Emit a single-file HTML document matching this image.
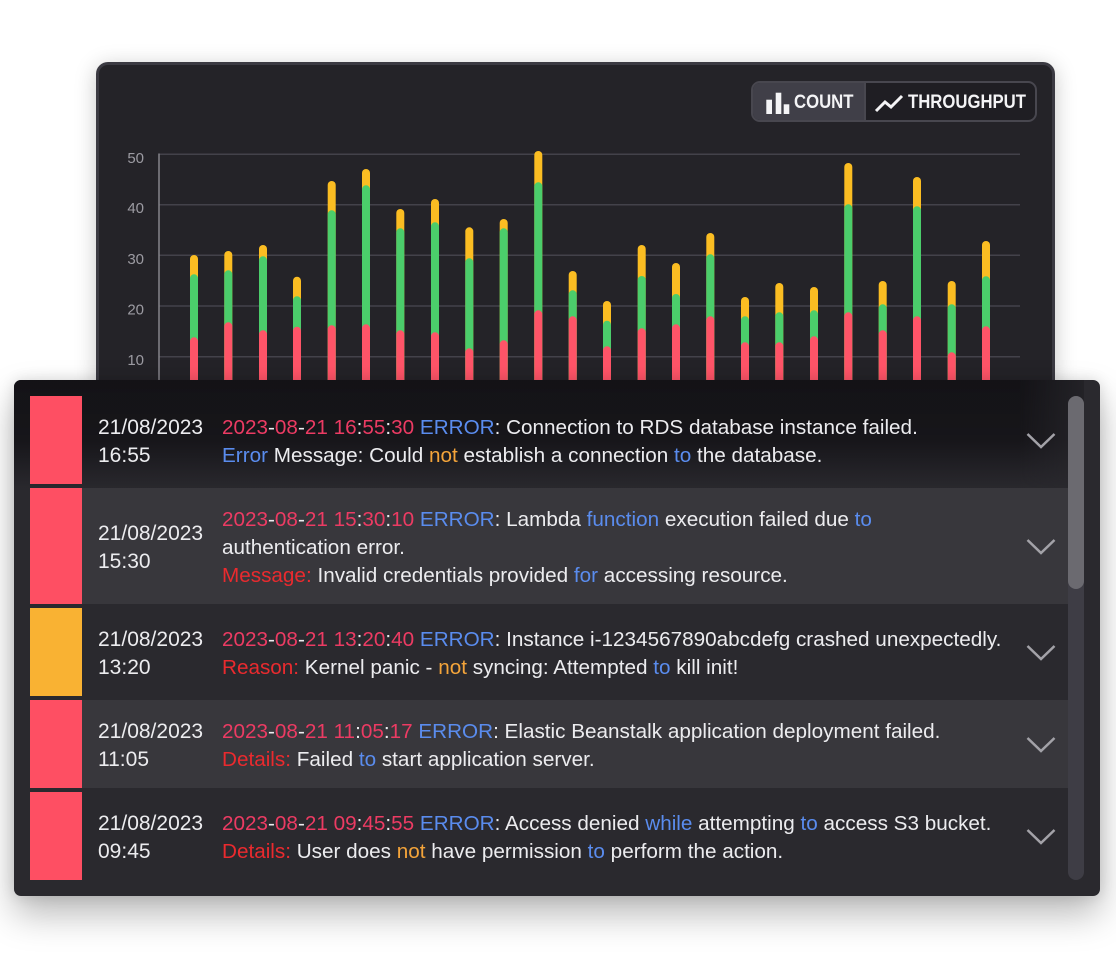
<!DOCTYPE html>
<html>
<head>
<meta charset="utf-8">
<style>
  html,body{margin:0;padding:0;}
  body{width:1116px;height:960px;background:#ffffff;position:relative;overflow:hidden;font-family:"Liberation Sans",Arial,sans-serif;}
  .card{position:absolute;left:96px;top:62px;width:953px;height:400px;background:#242328;border:3px solid #3b3a42;border-radius:12px;box-shadow:0 4px 22px rgba(0,0,0,0.22);}
  svg.chart{position:absolute;left:0;top:0;}
  .btns{position:absolute;left:751px;top:81px;width:282px;height:37px;border:2px solid #48474f;border-radius:9px;background:#1f1e23;overflow:hidden;color:#f4f4f6;font-weight:bold;font-size:19px;line-height:19px;}
  .seg1{position:absolute;left:0;top:0;width:111px;height:37px;background:#403f48;border-right:2px solid #48474f;}
  .btns span{position:absolute;top:10px;display:inline-block;transform:scaleX(0.88);transform-origin:0 0;white-space:nowrap;}
  .panel{position:absolute;left:14px;top:380px;width:1086px;height:516px;background:#2a292e;border-radius:7px;box-shadow:0 18px 36px rgba(0,0,0,0.28),0 0 14px rgba(0,0,0,0.12);overflow:hidden;}
  .track{position:absolute;left:1054px;top:16px;width:16px;height:484px;background:#3e3d45;border-radius:8px;}
  .overlay{position:absolute;left:0;top:0;width:1070px;height:110px;
    background:linear-gradient(to bottom,rgba(19,18,22,0.97) 0%,rgba(21,20,24,0.9) 55%,rgba(32,31,36,0.6) 85%,rgba(42,41,46,0) 100%);
    -webkit-mask-image:linear-gradient(to right,#000 0%,#000 94%,rgba(0,0,0,0.3) 100%);}
  .thumb{position:absolute;left:1054px;top:16px;width:16px;height:193px;background:#6b6a70;border-radius:8px;}
  .row{position:absolute;left:16px;width:1038px;}
  .strip{position:absolute;left:0;top:0;width:52px;height:100%;}
  .red{background:#fe4f63;}
  .yel{background:#f9b233;}
  .date{position:absolute;left:68px;top:2px;height:100%;display:flex;flex-direction:column;justify-content:center;font-size:21px;line-height:28px;color:#ececef;}
  .msg{position:absolute;left:192px;top:2px;height:100%;display:flex;flex-direction:column;justify-content:center;font-size:20.7px;line-height:28px;color:#ececef;white-space:nowrap;}
  .p{color:#ec3b63;}
  .b{color:#5a8cee;}
  .r{color:#ea2a2e;}
  .o{color:#f4a43a;}
  .chev{position:absolute;left:996px;top:50%;margin-top:-8px;}
</style>
</head>
<body>
<div class="card"></div>
<svg class="chart" width="1116" height="960" viewBox="0 0 1116 960">
  <g stroke="#43424a" stroke-width="1.5">
    <line x1="159" y1="154.3" x2="1020" y2="154.3"/>
    <line x1="159" y1="204.7" x2="1020" y2="204.7"/>
    <line x1="159" y1="255.3" x2="1020" y2="255.3"/>
    <line x1="159" y1="306" x2="1020" y2="306"/>
    <line x1="159" y1="356.7" x2="1020" y2="356.7"/>
  </g>
  <line x1="159" y1="153.5" x2="159" y2="420" stroke="#85848b" stroke-width="1.5"/>
  <g fill="#9c9ba2" font-family="Liberation Sans, Arial, sans-serif" font-size="15" text-anchor="end">
    <text x="144" y="162.8">50</text>
    <text x="144" y="213.2">40</text>
    <text x="144" y="263.8">30</text>
    <text x="144" y="314.5">20</text>
    <text x="144" y="365.2">10</text>
  </g>
  <g id="bars"></g>
</svg>
<div class="btns">
  <div class="seg1"></div>
  <svg style="position:absolute;left:12px;top:8px" width="26" height="24" viewBox="0 0 26 24">
    <rect x="1.3" y="8.7" width="5.7" height="14.3" fill="#f4f4f6"/>
    <rect x="10.7" y="1.7" width="5.6" height="21.3" fill="#f4f4f6"/>
    <rect x="18.7" y="13.3" width="5.6" height="9.7" fill="#f4f4f6"/>
  </svg>
  <span style="left:41px;">COUNT</span>
  <svg style="position:absolute;left:121px;top:10px" width="30" height="20" viewBox="0 0 30 20">
    <polyline points="2,18 11,9 17,14 28,3" fill="none" stroke="#f4f4f6" stroke-width="3" stroke-linejoin="miter"/>
  </svg>
  <span style="left:155px;">THROUGHPUT</span>
</div>

<div class="panel">
  <div class="track"></div>
  <div class="overlay"></div>

  <div class="row" style="top:16px;height:88px;">
    <div class="strip red"></div>
    <div class="date"><div>21/08/2023</div><div>16:55</div></div>
    <div class="msg">
      <div><span class="p">2023</span>-<span class="p">08</span>-<span class="p">21 16</span>:<span class="p">55</span>:<span class="p">30</span> <span class="b">ERROR</span>: Connection to RDS database instance failed.</div>
      <div><span class="b">Error</span> Message: Could <span class="o">not</span> establish a connection <span class="b">to</span> the database.</div>
    </div>
    <svg class="chev" width="30" height="18" viewBox="0 0 30 18"><polyline points="1.5,2 15,15 28.5,2" fill="none" stroke="#a3a2a8" stroke-width="2.5"/></svg>
  </div>

  <div class="row" style="top:108px;height:116px;background:#38373c;">
    <div class="strip red"></div>
    <div class="date"><div>21/08/2023</div><div>15:30</div></div>
    <div class="msg">
      <div><span class="p">2023</span>-<span class="p">08</span>-<span class="p">21 15</span>:<span class="p">30</span>:<span class="p">10</span> <span class="b">ERROR</span>: Lambda <span class="b">function</span> execution failed due <span class="b">to</span></div>
      <div>authentication error.</div>
      <div><span class="r">Message:</span> Invalid credentials provided <span class="b">for</span> accessing resource.</div>
    </div>
    <svg class="chev" width="30" height="18" viewBox="0 0 30 18"><polyline points="1.5,2 15,15 28.5,2" fill="none" stroke="#a3a2a8" stroke-width="2.5"/></svg>
  </div>

  <div class="row" style="top:228px;height:88px;">
    <div class="strip yel"></div>
    <div class="date"><div>21/08/2023</div><div>13:20</div></div>
    <div class="msg">
      <div><span class="p">2023</span>-<span class="p">08</span>-<span class="p">21 13</span>:<span class="p">20</span>:<span class="p">40</span> <span class="b">ERROR</span>: Instance i-1234567890abcdefg crashed unexpectedly.</div>
      <div><span class="r">Reason:</span> Kernel panic - <span class="o">not</span> syncing: Attempted <span class="b">to</span> kill init!</div>
    </div>
    <svg class="chev" width="30" height="18" viewBox="0 0 30 18"><polyline points="1.5,2 15,15 28.5,2" fill="none" stroke="#a3a2a8" stroke-width="2.5"/></svg>
  </div>

  <div class="row" style="top:320px;height:88px;background:#38373c;">
    <div class="strip red"></div>
    <div class="date"><div>21/08/2023</div><div>11:05</div></div>
    <div class="msg">
      <div><span class="p">2023</span>-<span class="p">08</span>-<span class="p">21 11</span>:<span class="p">05</span>:<span class="p">17</span> <span class="b">ERROR</span>: Elastic Beanstalk application deployment failed.</div>
      <div><span class="r">Details:</span> Failed <span class="b">to</span> start application server.</div>
    </div>
    <svg class="chev" width="30" height="18" viewBox="0 0 30 18"><polyline points="1.5,2 15,15 28.5,2" fill="none" stroke="#a3a2a8" stroke-width="2.5"/></svg>
  </div>

  <div class="row" style="top:412px;height:88px;">
    <div class="strip red"></div>
    <div class="date"><div>21/08/2023</div><div>09:45</div></div>
    <div class="msg">
      <div><span class="p">2023</span>-<span class="p">08</span>-<span class="p">21 09</span>:<span class="p">45</span>:<span class="p">55</span> <span class="b">ERROR</span>: Access denied <span class="b">while</span> attempting <span class="b">to</span> access S3 bucket.</div>
      <div><span class="r">Details:</span> User does <span class="o">not</span> have permission <span class="b">to</span> perform the action.</div>
    </div>
    <svg class="chev" width="30" height="18" viewBox="0 0 30 18"><polyline points="1.5,2 15,15 28.5,2" fill="none" stroke="#a3a2a8" stroke-width="2.5"/></svg>
  </div>

  <div class="thumb"></div>
</div>

<script>
(function(){
  var xs=[194,228.3,263,297,331.7,366,400.3,435,469.3,503.7,538.3,572.7,607,641.7,676,710.3,745,779.3,814,848.3,882.7,917,951.7,986];
  var d=[[255,274.3,337.3],[251,270.3,322.3],[245,256.3,330.3],[276.7,296.3,326.7],[181,210.3,325.3],[169,185.3,324.3],[209,228.3,330.3],[199,222.3,332.3],[227.3,258.3,348.3],[219,228.3,340.3],[151,182.3,310.3],[271,290.3,316.3],[301,320.7,346.3],[245,276,328.3],[263,294,324.3],[233,254.3,316.3],[297,316.3,342.3],[283,312.3,342.3],[287,310.3,336.3],[163,204.3,312.3],[281,304.3,330.3],[177,206.3,316.3],[281,304.3,352.3],[241,276.3,326.3]];
  var cols=["#fbbd22","#4bcd6b","#ff5468"];
  var g=document.getElementById("bars");var s="";
  for(var i=0;i<xs.length;i++){
    for(var k=0;k<3;k++){
      var t=d[i][k];
      s+='<rect x="'+(xs[i]-4)+'" y="'+t+'" width="8" height="'+(430-t)+'" rx="4" fill="'+cols[k]+'"/>';
    }
  }
  g.innerHTML=s;
})();
</script>
</body>
</html>
